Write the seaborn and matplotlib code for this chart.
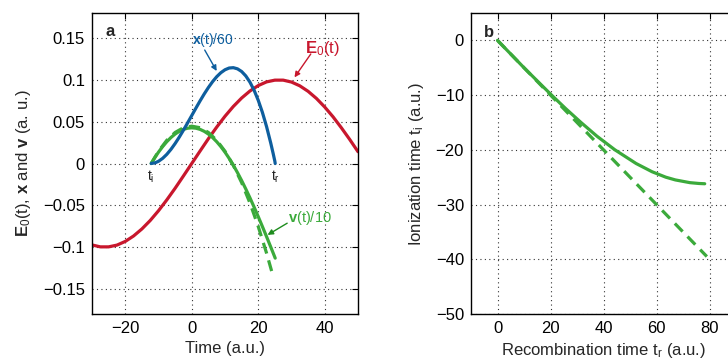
import numpy as np
import pandas as pd
import matplotlib
matplotlib.use("Agg")
import matplotlib.pyplot as plt
import seaborn as sns

# ---- data ----
t_field = [-30, -27.5, -25, -22.5, -20, -17.5, -15, -12.5, -10, -7.5, -5, -2.5, 0,
           2.5, 5, 7.5, 10, 12.5, 15, 17.5, 20, 22.5, 25, 27.5, 30, 32.5, 35,
           37.5, 40, 42.5, 45, 47.5, 50]
E0_field = [-0.0974, -0.0997, -0.0997, -0.0976, -0.0932, -0.0867, -0.0783, -0.0682,
            -0.0565, -0.0435, -0.0296, -0.0149, 0.0, 0.0149, 0.0296, 0.0435, 0.0565,
            0.0682, 0.0783, 0.0867, 0.0932, 0.0976, 0.0997, 0.0997, 0.0974, 0.0929,
            0.0863, 0.0778, 0.0675, 0.0558, 0.0427, 0.0288, 0.0141]

t_traj = [-12.2, -11, -10, -8.75, -7.5, -6.25, -5, -3.75, -2.5, -1.25,
          0, 1.25, 2.5, 3.75, 5, 6.25, 7.5, 8.75, 10, 11.25,
          12.5, 13.75, 15, 16.25, 17.5, 18.75, 20, 21.25, 22.5, 23.75,
          24.5, 25, 25.1]
x_over_60 = [0.0, 0.00085, 0.00264, 0.00616, 0.01097, 0.01695, 0.02389, 0.03158, 0.03987, 0.04853,
             0.05738, 0.06622, 0.07488, 0.08316, 0.09085, 0.09780, 0.10378, 0.10859, 0.11212, 0.11420,
             0.11461, 0.11323, 0.11004, 0.10476, 0.09731, 0.08764, 0.07556, 0.06112, 0.04412, 0.02458,
             0.01168, 0.00255, 0.0]
v_over_10 = [0.0, 0.00768, 0.01357, 0.02023, 0.02608, 0.03110, 0.03523, 0.03848, 0.04082, 0.04222,
             0.04268, 0.04222, 0.04082, 0.03848, 0.03523, 0.03110, 0.02608, 0.02023, 0.01357, 0.00613,
             -0.00203, -0.01090, -0.02038, -0.03048, -0.04105, -0.05212, -0.06358, -0.07543, -0.08748, -0.09977,
             -0.10722, -0.1122, -0.1132]

t_approx = [-12.2, -10, -7.5, -5, -2.5, 0, 2.5, 5, 7.5, 10, 12.5, 15, 17.5, 20, 22.5, 24.4]
v_approx_over_10 = [0.0, 0.01465, 0.02778, 0.03715, 0.04278, 0.04465, 0.04278, 0.03715,
                    0.02778, 0.01465, -0.00222, -0.02285, -0.04722, -0.07535, -0.10722,
                    -0.13396]

t_rec = [0, 10, 15.2, 20.4, 25.8, 31.5, 37.5, 44.3, 52.3, 58.3, 63.5, 67.1, 72.6, 76.0, 78.2]
t_ion = [0, -5, -7.5, -10, -12.5, -15, -17.5, -20, -22.5, -24, -25, -25.5, -26, -26.15, -26.2]

t_rec_approx = [0, 79]
t_ion_approx = [0, -39.5]

x_ticks_a = [-20, 0, 20, 40]
y_ticks_a = [-0.15, -0.1, -0.05, 0, 0.05, 0.1, 0.15]
y_ticklabels_a = ["\u22120.15", "\u22120.1", "\u22120.05", "0", "0.05", "0.1", "0.15"]
x_ticks_b = [0, 20, 40, 60, 80]
y_ticks_b = [0, -10, -20, -30, -40, -50]

# ---- style ----
sns.set_theme(style="white")
plt.rcParams["font.family"] = ["Liberation Sans", "DejaVu Sans"]
plt.rcParams["mathtext.fontset"] = "custom"
plt.rcParams["mathtext.rm"] = "Liberation Sans"
plt.rcParams["mathtext.bf"] = "Liberation Sans:bold"
plt.rcParams["mathtext.it"] = "Liberation Sans:italic"
plt.rcParams["axes.unicode_minus"] = True

RED = "#C8172D"
BLUE = "#0E5E9E"
GREEN = "#3BAA3B"
DGREEN = "#1E8C1E"
FS = 12
LW = 2.3
DASH = (0, (3.5, 2.2))

fig = plt.figure(figsize=(7.28, 3.62), dpi=100)
axa = fig.add_axes([92 / 728, 48 / 362, 266 / 728, 301 / 362])
axb = fig.add_axes([471 / 728, 48 / 362, 265 / 728, 301 / 362])

df_E = pd.DataFrame({"t": t_field, "y": E0_field})
df_x = pd.DataFrame({"t": t_traj, "y": x_over_60})
df_v = pd.DataFrame({"t": t_traj, "y": v_over_10})
df_va = pd.DataFrame({"t": t_approx, "y": v_approx_over_10})

sns.lineplot(data=df_E, x="t", y="y", ax=axa, color=RED, lw=LW, sort=False, estimator=None)
sns.lineplot(data=df_va, x="t", y="y", ax=axa, color=GREEN, lw=LW, sort=False,
             estimator=None, dashes=False, linestyle=DASH)
sns.lineplot(data=df_v, x="t", y="y", ax=axa, color=GREEN, lw=LW, sort=False, estimator=None)
sns.lineplot(data=df_x, x="t", y="y", ax=axa, color=BLUE, lw=LW, sort=False, estimator=None)

axa.set_xlim(-30, 50)
axa.set_ylim(-0.18, 0.18)
axa.set_xticks(x_ticks_a)
axa.set_yticks(y_ticks_a)
axa.set_yticklabels(y_ticklabels_a)
axa.set_xlabel("Time (a.u.)", fontsize=FS, labelpad=4)
axa.set_ylabel(r"$\mathbf{E}_\mathrm{0}$(t), $\mathbf{x}$ and $\mathbf{v}$ (a. u.)",
               fontsize=FS, labelpad=7)


def arrow(ax, start, end, color):
    ax.annotate("", xy=end, xytext=start,
                arrowprops=dict(arrowstyle="-|>", color=color, lw=1.0, mutation_scale=8,
                                shrinkA=0, shrinkB=0))


axa.text(6.2, 0.1476, r"$\mathbf{x}$(t)/60", color=BLUE, fontsize=10, ha="center", va="center")
arrow(axa, (3.9, 0.1357), (7.5, 0.1106), BLUE)
axa.text(39.4, 0.1376, r"$\mathbf{E}_\mathrm{0}$(t)", color=RED, fontsize=12, ha="center", va="center")
arrow(axa, (35.8, 0.131), (30.9, 0.103), RED)
axa.text(35.4, -0.0655, r"$\mathbf{v}$(t)/10", color=GREEN, fontsize=10.5, ha="center", va="center")
arrow(axa, (28.7, -0.0714), (22.8, -0.0854), DGREEN)

axa.text(-12.3, -0.006, r"t$_\mathrm{i}$", fontsize=10, ha="center", va="top", color="#222222")
axa.text(25.2, -0.006, r"t$_\mathrm{r}$", fontsize=10, ha="center", va="top", color="#222222")
axa.text(0.068, 0.937, "a", transform=axa.transAxes, fontsize=12, fontweight="bold",
         ha="center", va="center")

df_ti = pd.DataFrame({"tr": t_rec, "ti": t_ion})
df_tia = pd.DataFrame({"tr": t_rec_approx, "ti": t_ion_approx})
sns.lineplot(data=df_tia, x="tr", y="ti", ax=axb, color=GREEN, lw=LW, sort=False,
             estimator=None, dashes=False, linestyle=DASH)
sns.lineplot(data=df_ti, x="tr", y="ti", ax=axb, color=GREEN, lw=LW, sort=False, estimator=None)

axb.set_xlim(-10, 90)
axb.set_ylim(-50, 5)
axb.set_xticks(x_ticks_b)
axb.set_yticks(y_ticks_b)
axb.set_xlabel(r"Recombination time t$_\mathrm{r}$ (a.u.)", fontsize=FS, labelpad=4)
axb.set_ylabel(r"Ionization time t$_\mathrm{i}$ (a.u.)", fontsize=FS, labelpad=7)
axb.text(0.068, 0.936, "b", transform=axb.transAxes, fontsize=12, fontweight="bold",
         ha="center", va="center")

for ax in (axa, axb):
    ax.grid(True, which="major", linestyle=(0, (1, 3)), color="#333333", lw=0.8)
    ax.tick_params(direction="in", length=4, width=0.8, top=True, right=True,
                   labelsize=FS, colors="black")
    ax.tick_params(axis="x", pad=5)
    ax.tick_params(axis="y", pad=5)
    for sp in ax.spines.values():
        sp.set_visible(True)
        sp.set_color("black")
        sp.set_linewidth(1.0)
    ax.set_facecolor("white")

fig.savefig("out.png", dpi=100, facecolor="white")
